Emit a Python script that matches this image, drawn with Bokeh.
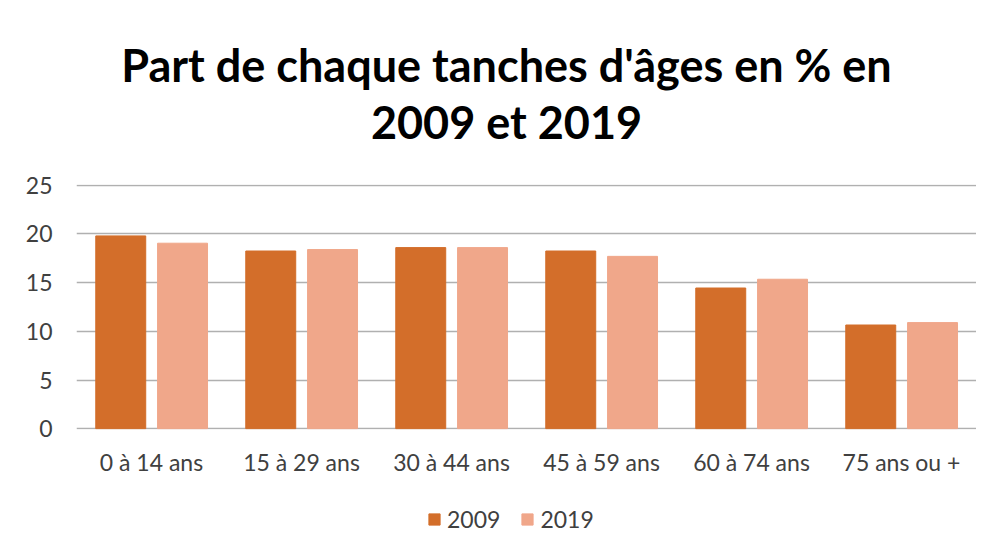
from bokeh.plotting import figure
from bokeh.layouts import column
from bokeh.models import ColumnDataSource, FactorRange, Range1d, Label, Legend, LegendItem
from bokeh.transform import dodge
from bokeh.embed import file_html
from bokeh.resources import INLINE

categories = ["0 à 14 ans", "15 à 29 ans", "30 à 44 ans", "45 à 59 ans", "60 à 74 ans", "75 ans ou +"]
v2009 = [19.8, 18.25, 18.6, 18.25, 14.45, 10.65]
v2019 = [19.05, 18.4, 18.6, 17.7, 15.35, 10.9]
series_names = ["2009", "2019"]
title_lines = ["Part de chaque tanches d'âges en % en", "2009 et 2019"]
y_ticks = [0, 5, 10, 15, 20, 25]

C2009 = "#D36E2A"
C2019 = "#F0A78A"
TXT = "#404040"

# ---- title block ----
p_top = figure(width=976, height=160, x_range=Range1d(0, 900), y_range=Range1d(0, 160),
               x_axis_location=None, y_axis_location=None, toolbar_location=None,
               output_backend="svg", min_border=0)
p_top.outline_line_color = None
p_top.grid.visible = False
for txt, yy in zip(title_lines, [96, 39]):
    p_top.add_layout(Label(x=430, y=yy, text=txt, text_align="center", text_baseline="alphabetic",
                           text_font="Lato", text_font_style="bold", text_font_size="45px",
                           text_color="#000000"))

# ---- main chart ----
src = ColumnDataSource(dict(cat=categories, a=v2009, b=v2019))
p = figure(x_range=FactorRange(*categories, range_padding=0), y_range=Range1d(-0.08, 25.08),
           width=976, height=329, output_backend="svg", toolbar_location=None,
           min_border_left=76, min_border_right=0, min_border_top=24, min_border_bottom=60)
p.vbar(x=dodge("cat", -0.205, range=p.x_range), top="a", width=0.333, source=src,
       fill_color=C2009, line_color=C2009)
p.vbar(x=dodge("cat", 0.207, range=p.x_range), top="b", width=0.333, source=src,
       fill_color=C2019, line_color=C2019)

p.outline_line_color = None
p.xgrid.grid_line_color = None
p.ygrid.grid_line_color = "#B0B0B0"
p.ygrid.grid_line_width = 1.5
p.yaxis.ticker = y_ticks
p.yaxis.axis_line_color = None
p.yaxis.major_tick_line_color = None
p.yaxis.minor_tick_line_color = None
p.yaxis.major_label_standoff = 18
p.xaxis.axis_line_color = None
p.xaxis.major_tick_line_color = None
p.xaxis.minor_tick_line_color = None
p.xaxis.major_label_standoff = 12
for ax in (p.xaxis, p.yaxis):
    ax.major_label_text_font = "Lato"
    ax.major_label_text_font_size = "23px"
    ax.major_label_text_color = TXT

# ---- legend block ----
p_leg = figure(width=976, height=53, x_range=Range1d(0, 900), y_range=Range1d(0, 53),
               x_axis_location=None, y_axis_location=None, toolbar_location=None,
               output_backend="svg", min_border=0)
p_leg.outline_line_color = None
p_leg.grid.visible = False
swatch = ColumnDataSource(dict(x=[-100], top=[0]))
g1 = p_leg.vbar(x="x", top="top", width=1, source=swatch, fill_color=C2009, line_color=C2009)
g2 = p_leg.vbar(x="x", top="top", width=1, source=swatch, fill_color=C2019, line_color=C2019)
legend = Legend(items=[LegendItem(label=series_names[0], renderers=[g1]),
                       LegendItem(label=series_names[1], renderers=[g2])],
                orientation="horizontal", location=(351, 9),
                label_text_font="Lato", label_text_font_size="23px", label_text_color=TXT,
                glyph_width=14, glyph_height=14, spacing=20, label_standoff=6,
                padding=0, margin=0,
                border_line_color=None, background_fill_alpha=0)
p_leg.add_layout(legend, "center")

layout = column(p_top, p, p_leg, spacing=0)
open("out.html", "w").write(file_html(layout, INLINE))
